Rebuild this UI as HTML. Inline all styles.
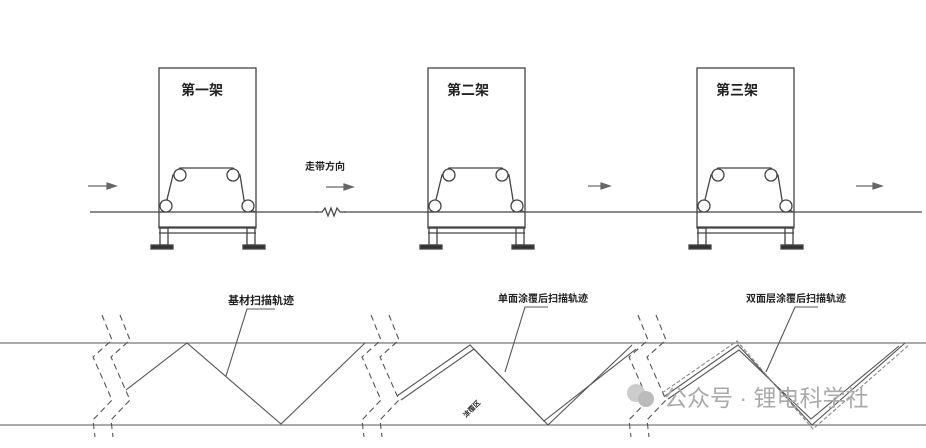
<!DOCTYPE html>
<html><head><meta charset="utf-8"><style>
html,body{margin:0;padding:0;background:#fff;width:926px;height:448px;overflow:hidden}
svg{display:block}
text{font-family:"Liberation Sans","Noto Sans CJK SC",sans-serif;font-weight:bold;fill:#222}
</style></head><body>
<svg width="926" height="448" viewBox="0 0 926 448" xmlns="http://www.w3.org/2000/svg">
<defs>
<g id="frame" fill="none" stroke="#444" stroke-width="1.3">
  <rect x="0" y="0" width="97" height="160"/>
  <path d="M1 144 L5 144 L14 107 L21 100 L74 100 L81 107 L86 138 L96 144"/>
  <circle cx="7" cy="138" r="6" fill="#fff"/>
  <circle cx="21" cy="107" r="6" fill="#fff"/>
  <circle cx="74" cy="107" r="6" fill="#fff"/>
  <circle cx="89" cy="138" r="6" fill="#fff"/>
  <line x1="0" y1="159" x2="97" y2="159"/>
  <line x1="0" y1="165" x2="97" y2="165"/>
  <rect x="1" y="160" width="8" height="17"/>
  <rect x="88" y="160" width="8" height="17"/>
  <rect x="-8" y="177" width="22" height="4" fill="#333"/>
  <rect x="84" y="177" width="22" height="4" fill="#333"/>
</g>
<g id="brk" fill="none" stroke="#555" stroke-width="1.1" stroke-dasharray="6,4">
  <path d="M0 0 L10 25 L-9 42 L10 85 L-9 105 L-7 122"/>
  <path d="M18 0 L28 25 L9 42 L28 85 L9 105 L11 122"/>
</g>
</defs>
<line x1="90" y1="212" x2="922" y2="212" stroke="#444" stroke-width="1.3"/>
<rect x="318" y="208" width="26" height="8" fill="#fff"/>
<path d="M316 212 L322 212 L325 208 L328 216 L331 208 L334 216 L337 208 L340 212 L346 212" fill="none" stroke="#444" stroke-width="1.2"/>
<use href="#frame" x="159" y="68"/>
<use href="#frame" x="428" y="68"/>
<use href="#frame" x="697" y="68"/>
<text x="181" y="95" font-size="14">第一架</text>
<text x="447" y="95" font-size="14">第二架</text>
<text x="716" y="95" font-size="14">第三架</text>
<text x="305" y="170" font-size="10">走带方向</text>
<g stroke="#666" stroke-width="1.2" fill="#666">
<line x1="88" y1="186" x2="108" y2="186"/><path d="M116 186 L107 183 L107 189Z"/>
<line x1="326" y1="187" x2="345" y2="187"/><path d="M353 187 L344 184 L344 190Z"/>
<line x1="588" y1="186" x2="602" y2="186"/><path d="M610 186 L601 183 L601 189Z"/>
<line x1="856" y1="186" x2="874" y2="186"/><path d="M882 186 L873 183 L873 189Z"/>
</g>
<g stroke="#777" stroke-width="1.2">
<line x1="0" y1="343" x2="926" y2="343"/>
<line x1="0" y1="425" x2="926" y2="425"/>
</g>
<use href="#brk" x="102" y="315"/>
<use href="#brk" x="371" y="315"/>
<use href="#brk" x="638" y="315"/>
<g fill="none" stroke="#555" stroke-width="1.1">
<path d="M126 390 L187 343 L281 424 L365 343"/>
<path d="M397 396 L470 345 L548 425 L632 345"/>
<path d="M401 400 L474 349 L544 421 L636 349"/>
<path d="M665 396 L738 345 L812 425 L905 343"/>
<path d="M668 399 L739 350 L811 419 L899 346"/>
<path d="M662 393 L737 341 L813 429 L909 345" stroke-dasharray="4,2" stroke="#888"/>
<path d="M275 309 L247 309 L226 376"/>
<path d="M548 307 L525 307 L505 372"/>
<path d="M818 307 L795 307 L766 372"/>
</g>
<text x="228" y="304" font-size="11">基材扫描轨迹</text>
<text x="498" y="302" font-size="10">单面涂覆后扫描轨迹</text>
<text x="746" y="302" font-size="10">双面层涂覆后扫描轨迹</text>
<text x="0" y="0" font-size="7" transform="translate(466,418) rotate(-45)">涂覆区</text>
<circle cx="636" cy="393" r="9" fill="#ccc"/><circle cx="646" cy="399" r="8" fill="#bbb"/>
<text x="664" y="406" font-size="23" style="font-weight:normal;fill:#aaa">公众号 · 锂电科学社</text>
</svg>
</body></html>
